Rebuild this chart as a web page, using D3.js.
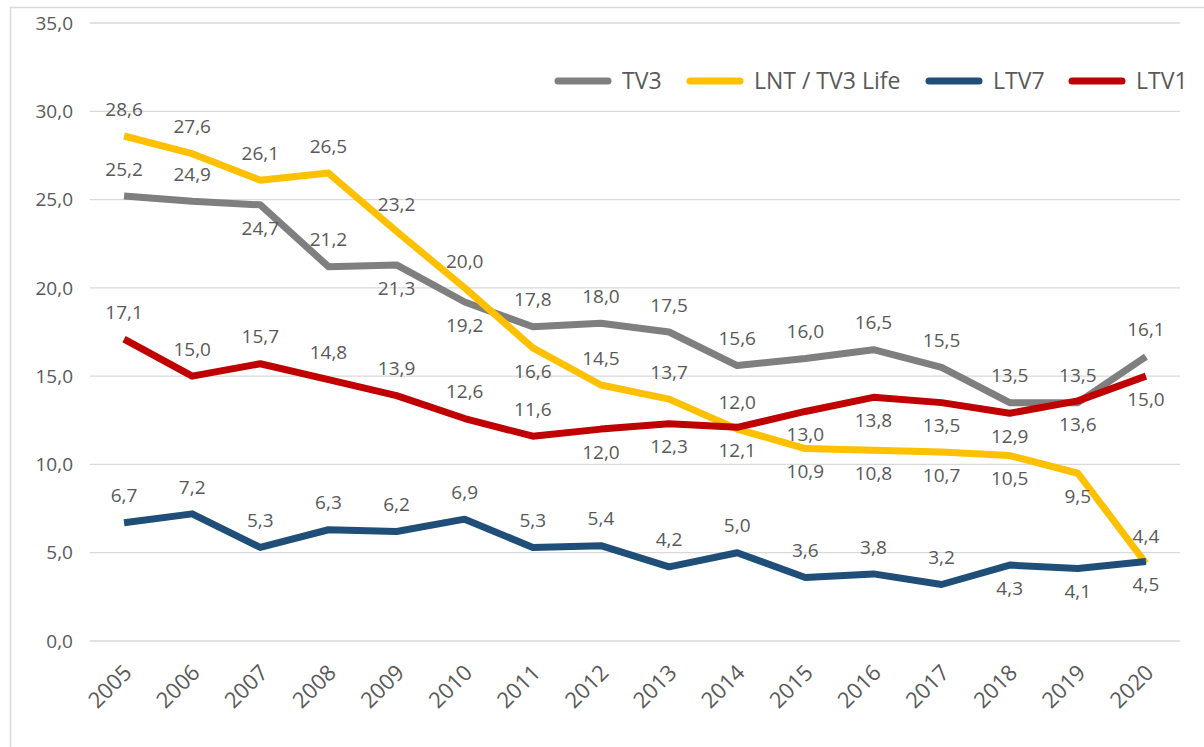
<!DOCTYPE html>
<html>
<head>
<meta charset="utf-8">
<script src="https://cdn.jsdelivr.net/npm/d3@7"></script>
<style>
  body { margin: 0; background: #fff; }
  svg { display: block; font-family: "Open Sans", sans-serif; }
  .grid line { stroke: #d9d9d9; stroke-width: 1.3; }
  .tick-label { fill: #595959; font-size: 19px; }
  .data-label { fill: #595959; font-size: 19px; }
  .legend text { fill: #595959; font-size: 23px; }
</style>
</head>
<body>
<svg id="chart" width="1204" height="747"></svg>
<script>
// Chart data
const years = ["2005","2006","2007","2008","2009","2010","2011","2012","2013","2014","2015","2016","2017","2018","2019","2020"];
const yTicks = [0, 5, 10, 15, 20, 25, 30, 35];

const tv3 = [25.2, 24.9, 24.7, 21.2, 21.3, 19.2, 17.8, 18.0, 17.5, 15.6, 16.0, 16.5, 15.5, 13.5, 13.5, 16.1];
const lnt = [28.6, 27.6, 26.1, 26.5, 23.2, 20.0, 16.6, 14.5, 13.7, 12.0, 10.9, 10.8, 10.7, 10.5, 9.5, 4.4];
const ltv7 = [6.7, 7.2, 5.3, 6.3, 6.2, 6.9, 5.3, 5.4, 4.2, 5.0, 3.6, 3.8, 3.2, 4.3, 4.1, 4.5];
const ltv1 = [17.1, 15.0, 15.7, 14.8, 13.9, 12.6, 11.6, 12.0, 12.3, 12.1, 13.0, 13.8, 13.5, 12.9, 13.6, 15.0];

// which data labels sit under the line (1) instead of above (0)
const tv3Below  = [0,0,1,0,1,1,0,0,0,0,0,0,0,0,0,0];
const lntBelow  = [0,0,0,0,0,0,1,0,0,0,1,1,1,1,1,0];
const ltv7Below = [0,0,0,0,0,0,0,0,0,0,0,0,0,1,1,1];
const ltv1Below = [0,0,0,0,0,0,0,1,1,1,1,1,1,1,1,1];

const series = [
  {name: "TV3", values: tv3, below: tv3Below, color: "#7f7f7f"},
  {name: "LNT / TV3 Life", values: lnt, below: lntBelow, color: "#ffc000"},
  {name: "LTV7", values: ltv7, below: ltv7Below, color: "#1f4e79"},
  {name: "LTV1", values: ltv1, below: ltv1Below, color: "#c00000"}
];

const svg = d3.select("#chart");
const fmt = v => d3.format(".1f")(v).replace(".", ",");

// Scales
const x = d3.scaleBand().domain(years).range([90, 1180]);
const y = d3.scaleLinear().domain([0, 35]).range([641, 23]);
const cx = d => x(d) + x.bandwidth() / 2;

// Outer frame
svg.append("rect")
    .attr("x", 10.5).attr("y", 7.5)
    .attr("width", 1300).attr("height", 900)
    .attr("fill", "none")
    .attr("stroke", "#d9d9d9")
    .attr("stroke-width", 1.5);

// Gridlines + y labels
const grid = svg.append("g").attr("class", "grid");
grid.selectAll("line")
    .data(yTicks)
    .enter().append("line")
    .attr("x1", 90).attr("x2", 1180)
    .attr("y1", d => y(d)).attr("y2", d => y(d));

svg.append("g")
    .selectAll("text")
    .data(yTicks)
    .enter().append("text")
    .attr("class", "tick-label")
    .attr("x", 73)
    .attr("y", d => y(d))
    .attr("dy", "0.35em")
    .attr("text-anchor", "end")
    .text(d => fmt(d));

// x axis labels (rotated)
svg.append("g")
    .selectAll("text")
    .data(years)
    .enter().append("text")
    .attr("class", "tick-label")
    .style("font-size", "22px")
    .attr("text-anchor", "end")
    .attr("transform", d => `translate(${cx(d) + 9},${674}) rotate(-45)`)
    .text(d => d);

// Lines
const line = d3.line()
    .x((d, i) => cx(years[i]))
    .y(d => y(d));

svg.append("g")
    .selectAll("path")
    .data(series)
    .enter().append("path")
    .attr("d", d => line(d.values))
    .attr("fill", "none")
    .attr("stroke", d => d.color)
    .attr("stroke-width", 7)
    .attr("stroke-linejoin", "round")
    .attr("stroke-linecap", "butt");

// Data labels
series.forEach(s => {
    svg.append("g")
        .selectAll("text")
        .data(s.values)
        .enter().append("text")
        .attr("class", "data-label")
        .attr("text-anchor", "middle")
        .attr("x", (d, i) => cx(years[i]))
        .attr("y", (d, i) => y(d) + (s.below[i] ? 23 : -27))
        .attr("dy", "0.35em")
        .text(d => fmt(d));
});

// Legend
const legendX = [558, 690, 929, 1072];
const legend = svg.append("g").attr("class", "legend");
const item = legend.selectAll("g")
    .data(series)
    .enter().append("g")
    .attr("transform", (d, i) => `translate(${legendX[i]},81)`);

item.append("line")
    .attr("x1", 0).attr("x2", 50)
    .attr("stroke", d => d.color)
    .attr("stroke-width", 7)
    .attr("stroke-linecap", "round");

item.append("text")
    .attr("x", 64)
    .attr("dy", "0.35em")
    .text(d => d.name);
</script>
</body>
</html>
